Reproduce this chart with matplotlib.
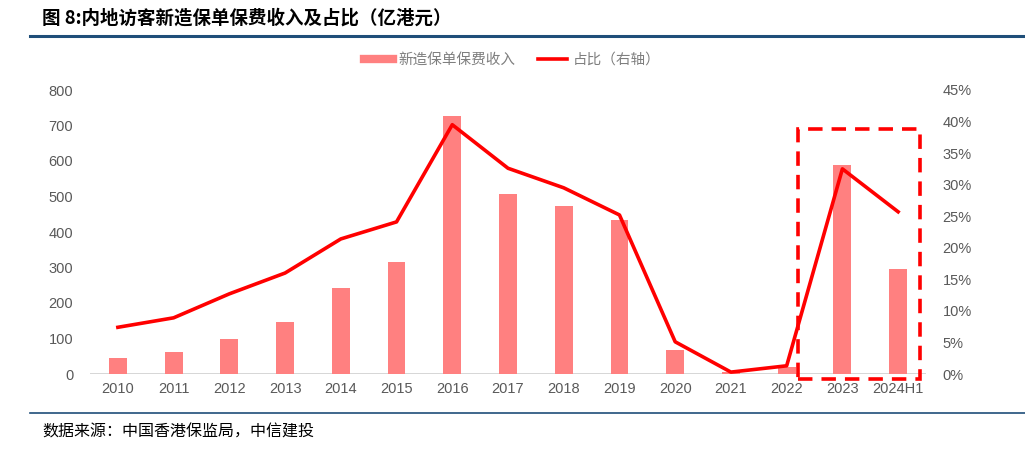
import matplotlib
matplotlib.use("Agg")
import matplotlib.pyplot as plt
from matplotlib.patches import Rectangle
from matplotlib.lines import Line2D

plt.rcParams['font.family'] = ['Noto Sans CJK SC', 'DejaVu Sans']

categories = ["2010", "2011", "2012", "2013", "2014", "2015", "2016", "2017",
              "2018", "2019", "2020", "2021", "2022", "2023", "2024H1"]
premium = [45, 62, 99, 146, 242, 315, 727, 507, 473, 434, 68, 6, 20, 589, 296]
share = [7.4, 8.9, 12.7, 16.0, 21.4, 24.1, 39.5, 32.6, 29.5, 25.2, 5.1, 0.3, 1.3, 32.5, 25.7]
left_ticks = [0, 100, 200, 300, 400, 500, 600, 700, 800]
right_ticks = [0, 5, 10, 15, 20, 25, 30, 35, 40, 45]

W, H = 1025, 453
fig = plt.figure(figsize=(W / 100, H / 100), dpi=100)
ax = fig.add_axes([90 / W, 1 - 374 / H, (926 - 90) / W, (374 - 90) / H])
ax2 = ax.twinx()

x = list(range(len(categories)))
ax.bar(x, premium, width=0.32, color='#FF8080', zorder=2, label='新造保单保费收入')
ax2.plot(x, share, color='#FF0000', lw=2.6, zorder=3, label='占比（右轴）')

ax.set_xlim(-0.5, len(categories) - 0.5)
ax.set_ylim(0, 800)
ax2.set_ylim(0, 45)
ax.set_yticks(left_ticks)
ax2.set_yticks(right_ticks)
ax2.set_yticklabels([f"{t}%" for t in right_ticks])
ax.set_xticks(x)
ax.set_xticklabels(categories)

num_font = ['Liberation Sans', 'DejaVu Sans']
for a in (ax, ax2):
    for s in a.spines.values():
        s.set_visible(False)
    a.tick_params(length=0, labelsize=10.5, colors='#595959')
    for lab in a.get_xticklabels() + a.get_yticklabels():
        lab.set_family(num_font)
ax.tick_params(axis='y', pad=12)
ax2.tick_params(axis='y', pad=12)
ax.tick_params(axis='x', pad=6)
ax.axhline(0, color='#D0D0D0', lw=1.2, zorder=1)

# dashed highlight box
rect = Rectangle((12.2, -14), 14.4 - 12.2, 690 + 14, fill=False, ec='#FF0000',
                 lw=2.6, ls=(0, (4, 2.5)), clip_on=False, zorder=4)
ax.add_patch(rect)

# legend
handles = [Line2D([], [], color='#FF8080', lw=6), Line2D([], [], color='#FF0000', lw=2.6)]
leg = fig.legend(handles, ['新造保单保费收入', '占比（右轴）'], loc='center',
                 bbox_to_anchor=(512 / W, 1 - 60 / H), ncol=2, frameon=False,
                 fontsize=10.5, handlelength=2.0, columnspacing=1.6, handletextpad=0.35)
for t in leg.get_texts():
    t.set_color('#7F7F7F')

# title and rules
fig.text(42 / W, 1 - 18 / H, '图 8:内地访客新造保单保费收入及占比（亿港元）', fontsize=13.3,
         fontweight='bold', va='center', ha='left', color='black')
fig.add_artist(Line2D([30 / W, 1], [1 - 36 / H, 1 - 36 / H], color='#1F4E79', lw=2.2))
fig.add_artist(Line2D([30 / W, 1], [1 - 413 / H, 1 - 413 / H], color='#1F4E79', lw=1.2))
fig.text(42 / W, 1 - 432 / H, '数据来源：中国香港保监局，中信建投', fontsize=11.5,
         style='italic', va='center', ha='left', color='black')

fig.savefig('out.png', dpi=100)
